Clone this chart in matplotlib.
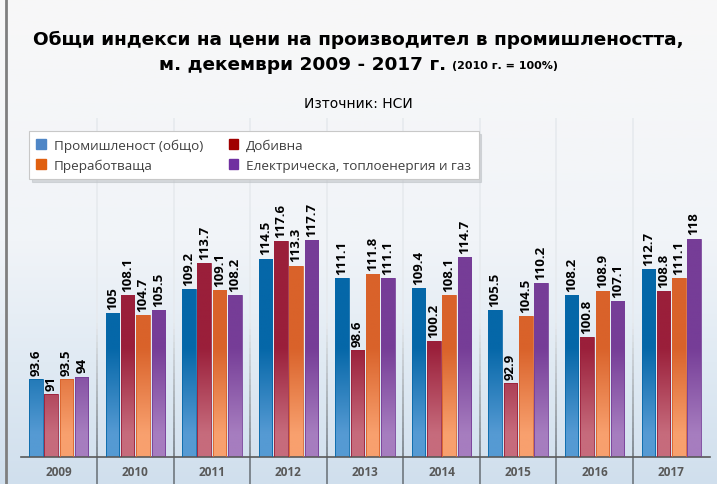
import numpy as np
import matplotlib
matplotlib.use("Agg")
import matplotlib.pyplot as plt
from matplotlib.colors import LinearSegmentedColormap, to_rgb
from matplotlib.collections import LineCollection
from matplotlib.patches import Patch

years = ["2009", "2010", "2011", "2012", "2013", "2014", "2015", "2016", "2017"]
industry = [93.6, 105, 109.2, 114.5, 111.1, 109.4, 105.5, 108.2, 112.7]
mining = [91, 108.1, 113.7, 117.6, 98.6, 100.2, 92.9, 100.8, 108.8]
manufacturing = [93.5, 104.7, 109.1, 113.3, 111.8, 108.1, 104.5, 108.9, 111.1]
energy = [94, 105.5, 108.2, 117.7, 111.1, 114.7, 110.2, 107.1, 118]
names = ["Промишленост (общо)", "Преработваща", "Добивна",
         "Електрическа, топлоенергия и газ"]

# (dark top, light bottom, legend swatch)
styles = [
    ("#0567a8", "#559ad3", "#4f86c6"),
    ("#9a1f3a", "#c66b7c", "#a00000"),
    ("#d9622a", "#f8a06e", "#e06010"),
    ("#763d97", "#a67dbf", "#7030a0"),
]
series = [industry, mining, manufacturing, energy]

W, H = 717, 485
fig = plt.figure(figsize=(W / 100, H / 100), dpi=100)

# figure background gradient
bg = fig.add_axes([0, 0, 1, 1], zorder=-10)
bg_cmap = LinearSegmentedColormap.from_list(
    "bg", [(0, "#d0dfed"), (0.25, "#e0eaf3"), (0.5, "#f1f4f8"), (1, "#f8f8f8")])
bg.imshow(np.linspace(0, 1, 256)[::-1, None], aspect="auto", cmap=bg_cmap,
          extent=[0, 1, 0, 1])
bg.set_axis_off()
bg.plot([6.5 / W, 6.5 / W], [0, 1], color="#7f7f7f", lw=2, transform=bg.transAxes)

left, right = 20.5 / W, 709.5 / W
bottom = (H - 458) / H
top = (H - 185) / H
ax = fig.add_axes([left, bottom, right - left, top - bottom])
ax.patch.set_alpha(0)
ymin = 80
ymax = ymin + 273 / 5.75
ax.set_xlim(-0.5, len(years) - 0.5)
ax.set_ylim(ymin, ymax)

x = np.arange(len(years))
step, bw = 0.2, 0.176


def grad_cmap(dark, light):
    return LinearSegmentedColormap.from_list("g", [light, dark])


for i, (vals, (dark, light, _)) in enumerate(zip(series, styles)):
    cmap = grad_cmap(dark, light)
    # gradient anchored to the data range, dark above ~99
    yy = np.linspace(ymin, ymax, 300)
    g = np.clip((yy - 84) / (99 - 84), 0, 1)[::-1, None]
    bars = ax.bar(x + (i - 1.5) * step, vals, bw, bottom=0, color="none",
                  edgecolor=dark, linewidth=0.6, zorder=3)
    for b, v in zip(bars, vals):
        im = ax.imshow(g, aspect="auto", cmap=cmap, vmin=0, vmax=1,
                       extent=[b.get_x(), b.get_x() + b.get_width(), ymin, ymax],
                       zorder=2)
        im.set_clip_path(b)
        ax.annotate(f"{v:g}", (b.get_x() + b.get_width() / 2, v),
                    xytext=(0, 3), textcoords="offset points", rotation=90,
                    ha="center", va="bottom", fontsize=9.5, fontweight="bold",
                    family="Open Sans", color="black", zorder=5)
ax.set_xlim(-0.5, len(years) - 0.5)
ax.set_ylim(ymin, ymax)

# group separators, fading toward the top
for sx in np.arange(0.5, len(years) - 0.5, 1):
    ys = np.linspace(-0.1, 1.24, 60)
    segs = [[(sx, ys[k]), (sx, ys[k + 1])] for k in range(len(ys) - 1)]
    t = np.clip((ys[:-1] + 0.02) / 0.5, 0, 1)
    c0, c1 = np.array(to_rgb("#6f777e")), np.array(to_rgb("#e6eaee"))
    cols = [tuple(c0 + (c1 - c0) * tt) for tt in t]
    lc = LineCollection(segs, colors=cols, linewidths=1.2,
                        transform=ax.get_xaxis_transform(), clip_on=False,
                        zorder=1)
    ax.add_collection(lc)

for s in ["top", "right", "left"]:
    ax.spines[s].set_visible(False)
ax.spines["bottom"].set_color("#595959")
ax.spines["bottom"].set_linewidth(1.2)
ax.set_yticks([])
ax.set_xticks(x)
ax.set_xticklabels(years, fontsize=8.5, fontweight="bold", color="#595959",
                   family="Open Sans")
ax.tick_params(axis="x", length=0, pad=6)

handles = [Patch(color=styles[k][2]) for k in (0, 2, 1, 3)]
leg = fig.legend(handles, names, ncol=2, loc="upper left",
                 bbox_to_anchor=(29 / W, 1 - 132 / H), borderaxespad=0,
                 frameon=True, fancybox=False,
                 shadow={"ox": 2, "oy": -2, "color": "#c0c4c8", "alpha": 0.6},
                 handlelength=0.7, handleheight=0.7, handletextpad=0.6,
                 columnspacing=1.9, borderpad=0.55, labelspacing=0.5,
                 prop={"family": "Open Sans", "size": 9.7})
leg.get_frame().set_edgecolor("#c8c8c8")
leg.get_frame().set_linewidth(0.8)
leg.get_frame().set_facecolor("white")
leg.get_frame().set_alpha(1)
for t in leg.get_texts():
    t.set_color("#404040")

fig.text(0.5, 1 - 40 / H,
         "Общи индекси на цени на производител в промишлеността,",
         ha="center", va="center", fontsize=13.3, fontweight="bold",
         family="DejaVu Sans")
t2a = fig.text(0, 1 - 65 / H, "м. декември 2009 - 2017 г. ", ha="left",
               va="center", fontsize=13.3, fontweight="bold",
               family="DejaVu Sans")
t2b = fig.text(0, 1 - 66 / H, "(2010 г. = 100%)", ha="left",
               va="center", fontsize=8, fontweight="bold", family="DejaVu Sans")
r = fig.canvas.get_renderer()
wa = t2a.get_window_extent(r).width
wb = t2b.get_window_extent(r).width
x0 = (W - wa - wb) / 2
t2a.set_x(x0 / W)
t2b.set_x((x0 + wa) / W)
fig.text(0.5, 1 - 104 / H, "Източник: НСИ", ha="center", va="center",
         fontsize=10, family="Liberation Sans Narrow")

fig.savefig("out.png", dpi=100)
